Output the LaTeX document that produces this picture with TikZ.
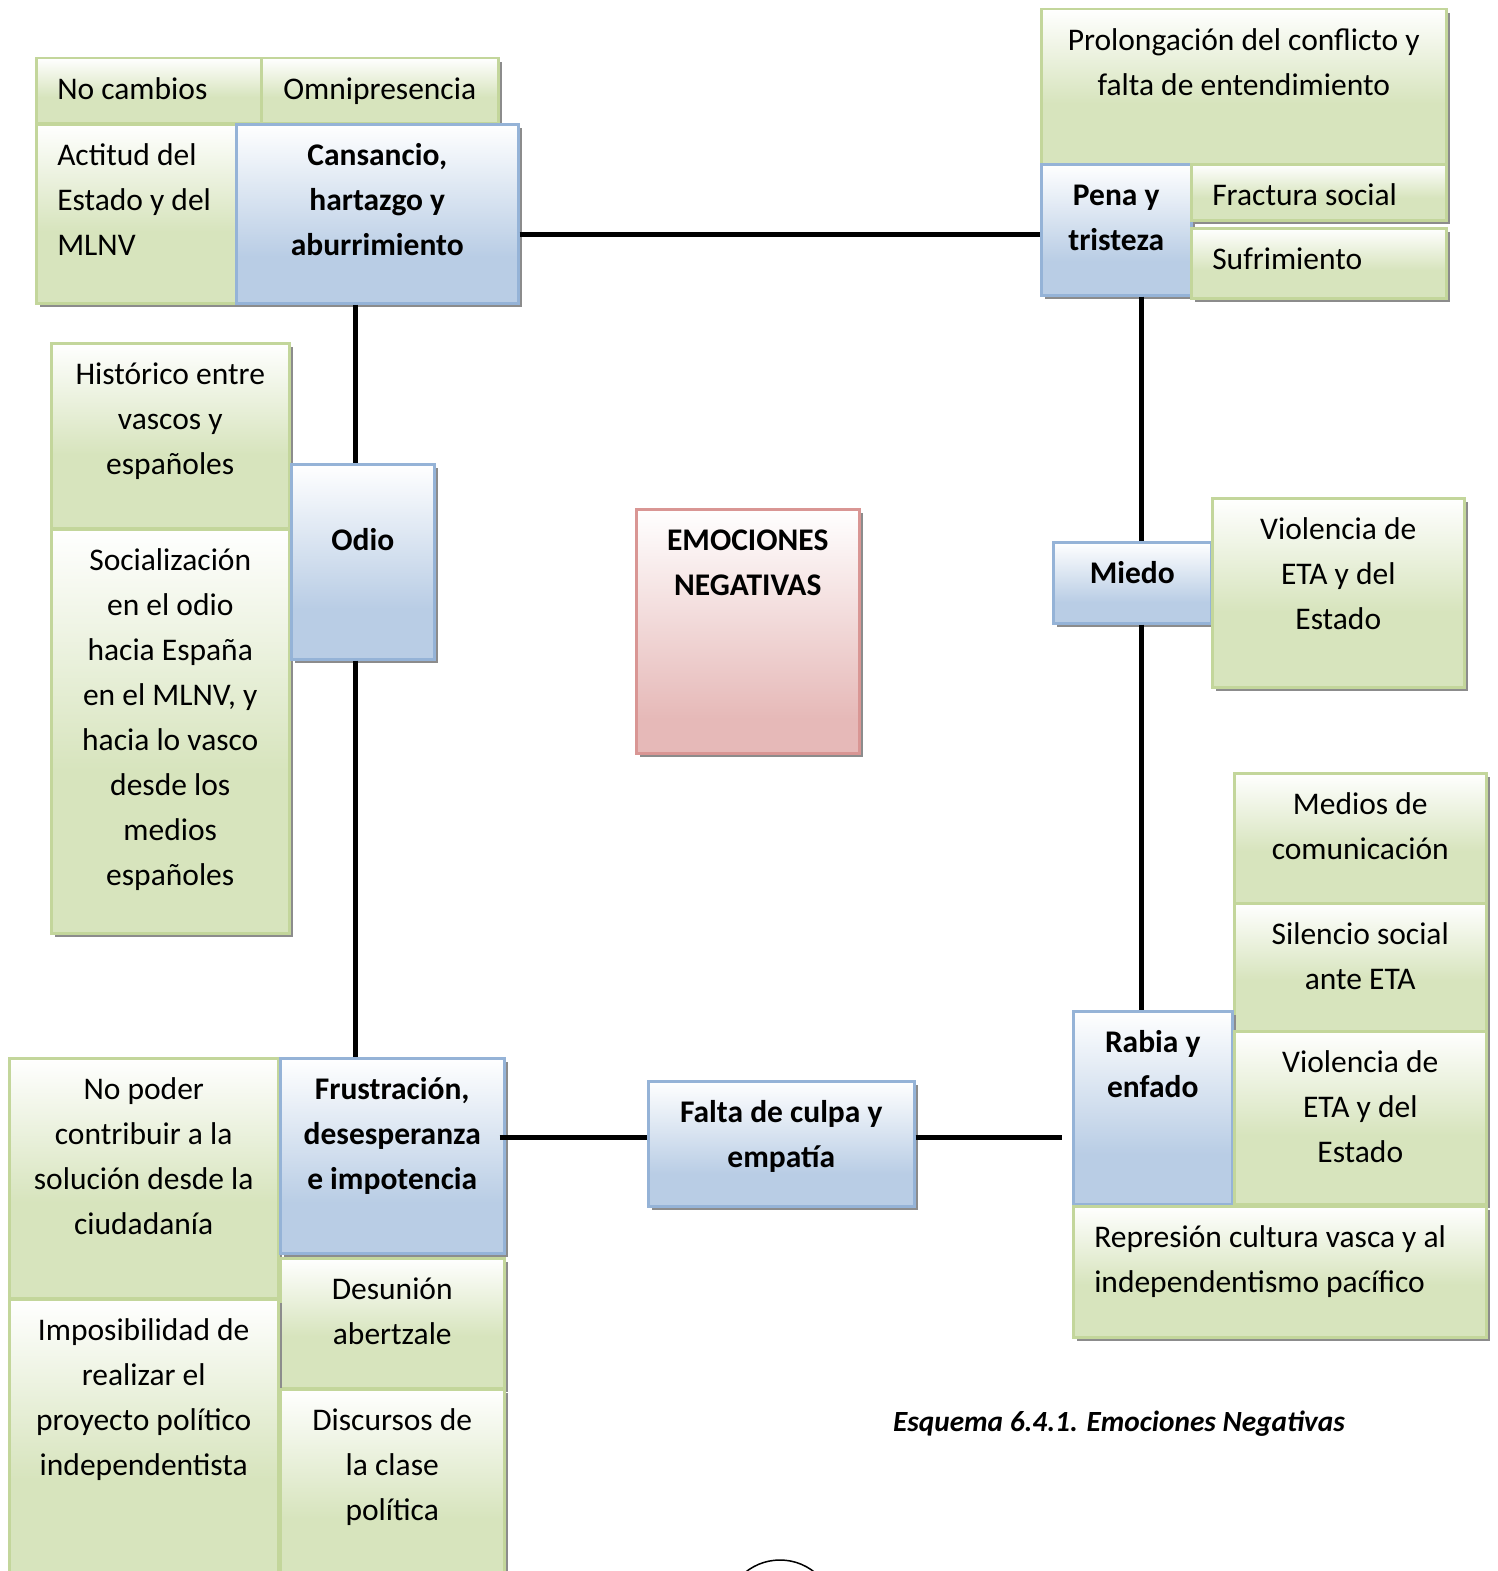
\documentclass[tikz,border=0pt]{standalone}
\usepackage{fontspec}
\setmainfont{Carlito}
\usepackage{tikz}
\usetikzlibrary{shadows}

\definecolor{cverde}{RGB}{215,228,189}
\definecolor{bverde}{RGB}{195,214,155}
\definecolor{cazul}{RGB}{185,205,229}
\definecolor{bazul}{RGB}{149,179,215}
\definecolor{crojo}{RGB}{230,185,184}
\definecolor{brojo}{RGB}{217,150,148}
\pgfdeclareverticalshading{sverde}{100bp}{color(0bp)=(cverde); color(25bp)=(cverde); color(45bp)=(cverde); color(75bp)=(white); color(100bp)=(white)}
\pgfdeclareverticalshading{sazul}{100bp}{color(0bp)=(cazul); color(25bp)=(cazul); color(38bp)=(cazul); color(75bp)=(white); color(100bp)=(white)}
\pgfdeclareverticalshading{srojo}{100bp}{color(0bp)=(crojo); color(25bp)=(crojo); color(32bp)=(crojo); color(75bp)=(white); color(100bp)=(white)}

\begin{document}
\begin{tikzpicture}[x=1pt, y=-1pt,
		caja/.style 2 args={anchor=north west, inner sep=0pt, minimum width=#1, minimum height=#2, line width=2.5pt,
			drop shadow={shadow xshift=4pt, shadow yshift=-4pt, fill=black!45, opacity=1},
			font=\fontsize{31.5}{45}\selectfont,
			execute at begin node={\begin{minipage}[t][#2][t]{#1}\vspace*{10pt}\centering\strut},
			execute at end node={\end{minipage}}},
		verde/.style={draw=bverde, shade, shading=sverde},
		azul/.style={draw=bazul, shade, shading=sazul, font=\fontsize{31.5}{45}\selectfont\bfseries},
		rojo/.style={draw=brojo, shade, shading=srojo, font=\fontsize{31.5}{45}\selectfont\bfseries},
		izq/.style={execute at begin node={\raggedright\leftskip=21pt\relax}},
		linea/.style={line width=5pt}
	]
	\useasboundingbox (0,0) rectangle (1497,1571);
	
	\node[caja={225pt}{65pt}, verde, izq] (nocambios) at (35,57) {No cambios};
	\node[caja={237pt}{65pt}, verde] (omnipresencia) at (260,57) {Omnipresencia};
	\node[caja={200pt}{179pt}, verde, izq] (actitud) at (35,123) {Actitud del\\Estado y del\\MLNV};
	\node[caja={282pt}{179pt}, azul] (cansancio) at (235,123) {Cansancio,\\hartazgo y\\aburrimiento};
	
	\node[caja={405pt}{157pt}, verde] (prolongacion) at (1040,8) {Prolongación del conflicto y\\falta de entendimiento};
	\node[caja={150pt}{131pt}, azul] (pena) at (1040,163) {Pena y\\tristeza};
	\node[caja={255pt}{56pt}, verde, izq] (fractura) at (1190,163) {Fractura social};
	\node[caja={255pt}{70pt}, verde, izq] (sufrimiento) at (1190,227) {Sufrimiento};
	
	\node[caja={238pt}{185pt}, verde] (historico) at (50,342) {Histórico entre\\vascos y\\españoles};
	\node[caja={238pt}{404pt}, verde] (socializacion) at (50,528) {Socialización\\en el odio\\hacia España\\en el MLNV, y\\hacia lo vasco\\desde los\\medios\\españoles};
	\node[caja={143pt}{195pt}, azul] (odio) at (290,463) {\\Odio};
	
	\node[caja={223pt}{244pt}, rojo] (emociones) at (635,508) {EMOCIONES\\NEGATIVAS};
	
	\node[caja={158pt}{81pt}, azul] (miedo) at (1052,541) {Miedo};
	\node[caja={252pt}{189pt}, verde] (violencia) at (1211,497) {Violencia de\\ETA y del\\Estado};
	
	\node[caja={252pt}{130pt}, verde] (medios) at (1233,772) {Medios de\\comunicación};
	\node[caja={252pt}{128pt}, verde] (silencio) at (1233,902) {Silencio social\\ante ETA};
	\node[caja={159pt}{193pt}, azul] (rabia) at (1072,1010) {Rabia y\\enfado};
	\node[caja={252pt}{173pt}, verde] (violenciados) at (1233,1030) {Violencia de\\ETA y del\\Estado};
	\node[caja={413pt}{131pt}, verde, izq] (represion) at (1072,1205) {Represión cultura vasca y al\\independentismo pacífico};
	
	\node[caja={269pt}{240pt}, verde] (nopoder) at (8,1057) {No poder\\contribuir a la\\solución desde la\\ciudadanía};
	\node[caja={224pt}{195pt}, azul] (frustracion) at (279,1057) {Frustración,\\desesperanza\\e impotencia};
	\node[caja={224pt}{130pt}, verde] (desunion) at (279,1257) {Desunión\\abertzale};
	\node[caja={269pt}{300pt}, verde] (imposibilidad) at (8,1298) {Imposibilidad de\\realizar el\\proyecto político\\independentista};
	\node[caja={224pt}{215pt}, verde] (discursos) at (279,1388) {Discursos de\\la clase\\política};
	
	\node[caja={266pt}{125pt}, azul] (falta) at (647,1080) {Falta de culpa y\\empatía};
	
	\node[font=\fontsize{29.3}{36}\selectfont\bfseries\itshape] (esquema) at (1119,1424) {Esquema 6.4.1. Emociones Negativas};
	
	\coordinate (ejesup) at (0,234);
	\coordinate (ejeizq) at (355,0);
	\coordinate (ejeder) at (1141,0);
	\coordinate (ejeinf) at (0,1137);
	\draw[linea] (cansancio.east |- ejesup) -- (pena.west |- ejesup);
	\draw[linea] (cansancio.south -| ejeizq) -- (odio.north -| ejeizq);
	\draw[linea] (odio.south -| ejeizq) -- (frustracion.north -| ejeizq);
	\draw[linea] (pena.south -| ejeder) -- (miedo.north -| ejeder);
	\draw[linea] (miedo.south -| ejeder) -- (rabia.north -| ejeder);
	\draw[linea] ([xshift=-6pt]frustracion.east |- ejeinf) -- (falta.west |- ejeinf);
	\draw[linea, shorten >=10pt] (falta.east |- ejeinf) -- (rabia.west |- ejeinf);
	
	\draw[line width=1.5pt] (780,1615) circle (55pt);
\end{tikzpicture}
\end{document}
